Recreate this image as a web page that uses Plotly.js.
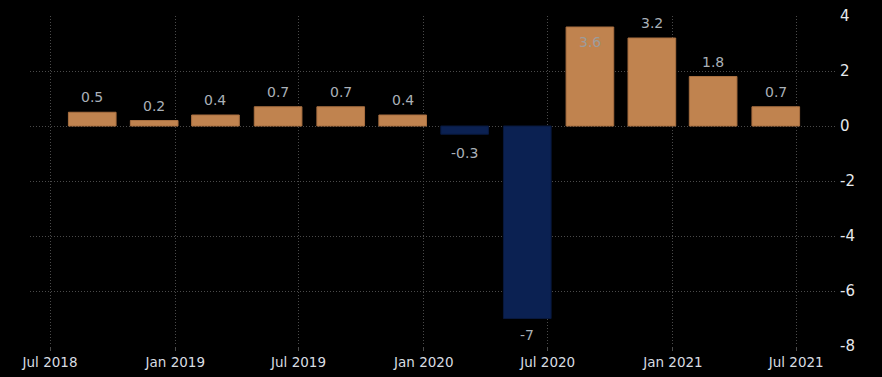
<!DOCTYPE html>
<html>
<head>
<meta charset="utf-8">
<script src="https://cdn.plot.ly/plotly-3.0.1.min.js"></script>
<style>
html,body{margin:0;padding:0;background:#000;}
#chart{width:882px;height:377px;}
</style>
</head>
<body>
<div id="chart"></div>
<script>
// Quarterly values (bars placed at quarter-position dates)
const dates = ["2018-09-01","2018-12-01","2019-03-01","2019-06-01","2019-09-01","2019-12-01",
               "2020-03-01","2020-06-01","2020-09-01","2020-12-01","2021-03-01","2021-06-01"];
const values = [0.5, 0.2, 0.4, 0.7, 0.7, 0.4, -0.3, -7, 3.6, 3.2, 1.8, 0.7];
const labels = ["0.5","0.2","0.4","0.7","0.7","0.4","-0.3","-7","3.6","3.2","1.8","0.7"];
const insideLabel = [false,false,false,false,false,false,false,false,true,false,false,false];
const xTickVals = ["2018-07-01","2019-01-01","2019-07-01","2020-01-01","2020-07-01","2021-01-01","2021-07-01"];
const xTickText = ["Jul 2018","Jan 2019","Jul 2019","Jan 2020","Jul 2020","Jan 2021","Jul 2021"];
const yTickVals = [4, 2, 0, -2, -4, -6, -8];
const yTickText = ["4", "2", "0", "-2", "-4", "-6", "-8"];

const POS = "#c0834f", NEG = "#0b2152";
const DAY = 86400000;

const trace = {
  type: "bar",
  x: dates,
  y: values,
  width: dates.map(() => 70 * DAY),
  marker: {
    color: values.map(v => v >= 0 ? POS : NEG),
    line: {color: values.map(v => v >= 0 ? "#a86f40" : "#08183d"), width: 1}
  },
  hoverinfo: "x+y"
};

const annotations = dates.map((d, i) => {
  const v = values[i];
  let shift;
  if (insideLabel[i]) shift = -15;
  else shift = v >= 0 ? 15 : (v < -1 ? -16 : -19);
  return {
    x: d, y: v, xref: "x", yref: "y",
    text: labels[i], showarrow: false,
    yshift: shift,
    font: {family: "DejaVu Sans", size: 14, color: insideLabel[i] ? "#9c9c9c" : "#aab1b8"}
  };
});

const GRID = "#4a4a4a";
const layout = {
  width: 882, height: 377,
  paper_bgcolor: "#000", plot_bgcolor: "#000",
  margin: {l: 30, r: 47, t: 16, b: 31},
  showlegend: false,
  xaxis: {
    type: "date",
    range: ["2018-06-01 14:00", "2021-08-27"],
    tickvals: xTickVals, ticktext: xTickText,
    showgrid: true, gridcolor: GRID, griddash: "1px,2px", gridwidth: 1,
    zeroline: false, showline: false,
    ticks: "outside", ticklen: 4, tickcolor: GRID,
    tickfont: {family: "DejaVu Sans", size: 13.5, color: "#d8dde2"}
  },
  yaxis: {
    side: "right",
    range: [-8, 4],
    tickvals: yTickVals, ticktext: yTickText,
    showgrid: true, gridcolor: GRID, griddash: "1px,2px", gridwidth: 1,
    zeroline: false, showline: false,
    ticks: "", ticklabelstandoff: 4,
    tickfont: {family: "DejaVu Sans", size: 15, color: "#e6e9ec"}
  },
  annotations: annotations
};

Plotly.newPlot("chart", [trace], layout, {displayModeBar: false, staticPlot: true});
</script>
</body>
</html>
